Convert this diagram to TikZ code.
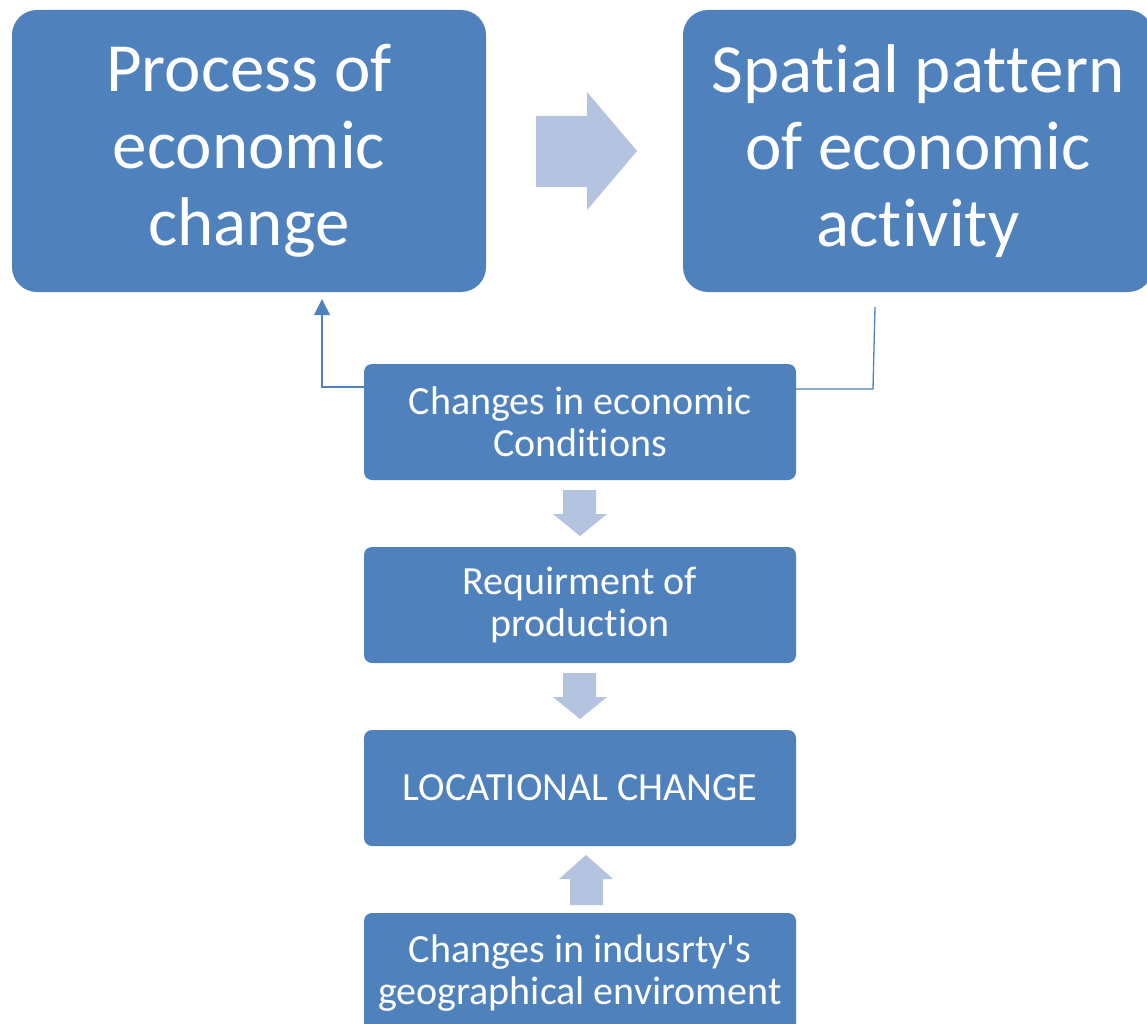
\documentclass[tikz,border=0pt]{standalone}
\usepackage{fontspec}
\setmainfont{Carlito}[Ligatures={NoCommon,NoContextual,NoRequired},Contextuals={NoAlternate},RawFeature={-liga;-clig;-calt;-dlig}]
\usetikzlibrary{arrows.meta}
\definecolor{boxblue}{HTML}{4F81BD}
\definecolor{arrowblue}{HTML}{B4C3DF}
\definecolor{lineblue}{HTML}{4F81BD}
\tikzset{
  bigbox/.style={fill=boxblue, draw=none, rounded corners=25pt, inner sep=0pt,
    minimum width=474pt, minimum height=282pt, text=white, align=center,
    font=\fontsize{69}{77}\selectfont},
  smallbox/.style={fill=boxblue, draw=none, rounded corners=8pt, inner sep=0pt,
    minimum width=432pt, minimum height=116pt, text=white, align=center,
    font=\fontsize{40}{42}\selectfont},
  blockarrow/.style={fill=arrowblue, draw=none},
  conn/.style={draw=lineblue, line width=1.3pt}
}
\begin{document}
\begin{tikzpicture}[x=1pt,y=-1pt]
\useasboundingbox (0,0) rectangle (1147,1024);
\fill[white] (0,0) rectangle (1147,1024);

\node[bigbox] (proc) at (249,151) {Process of\\economic\\change};
\node[bigbox, minimum width=470pt] (spat) at (918,151) {Spat\kern0pt ial pat\kern0pt t\kern0pt ern\\of economic\\act\kern0pt ivity};

\node[smallbox] (b1) at (580,422) {Changes in economic\\Condit\kern0pt ions};
\node[smallbox] (b2) at (580,605) {Requirment of\\product\kern0pt ion};
\node[smallbox] (b3) at (580,788) {LOCATIONAL CHANGE};
\node[smallbox, minimum height=120pt] (b4) at (580,973) {Changes in indusrty\textquotesingle s\\geographical enviroment};

% block arrows
\fill[blockarrow] (536,116) -- (587,116) -- (587,92) -- (637,151) -- (587,210) -- (587,187) -- (536,187) -- cycle;
\fill[blockarrow] (563,490) -- (596,490) -- (596,514) -- (607,514) -- (580,536) -- (553,514) -- (563,514) -- cycle;
\fill[blockarrow] (563,673) -- (596,673) -- (596,697) -- (607,697) -- (580,719) -- (553,697) -- (563,697) -- cycle;
\fill[blockarrow] (570,905) -- (603,905) -- (603,879) -- (613,879) -- (586,855) -- (559,879) -- (570,879) -- cycle;

% connectors
\coordinate (lc) at (322,387);
\coordinate (rc) at (873,389);
\coordinate (rt) at (875,307);
\draw[conn, -{Triangle[width=16pt,length=16pt]}, shorten >=7pt] (b1.west |- lc) -- (lc) -- (proc.south -| lc);
\draw[conn] (b1.east |- rc) -- (rc) -- (rt);
\end{tikzpicture}
\end{document}
